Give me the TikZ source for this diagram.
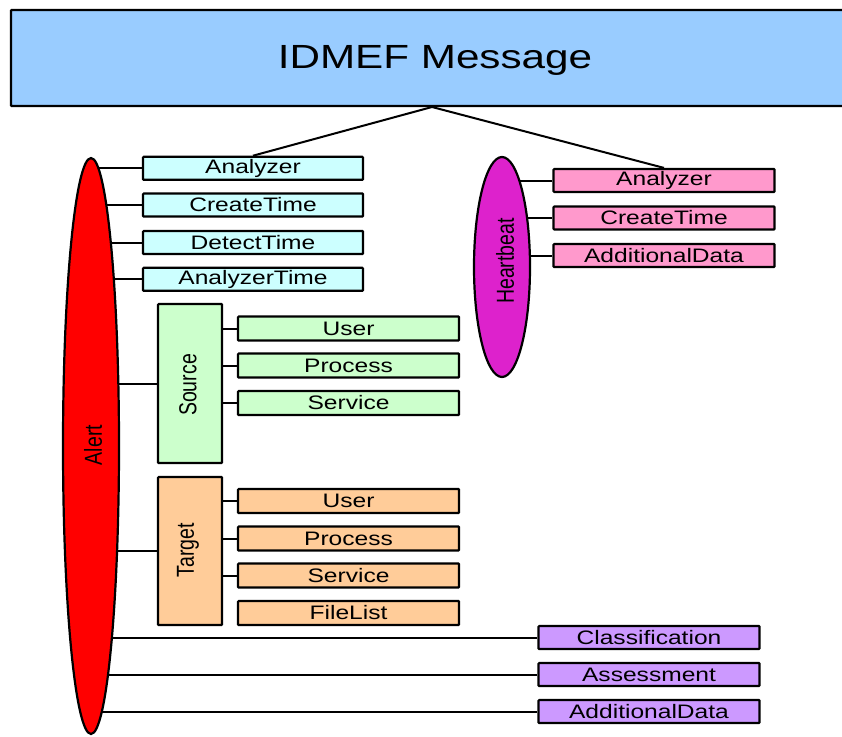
\documentclass[tikz,border=0pt]{standalone}
\usepackage{fontspec}
\usepackage{graphicx}
\setmainfont{Liberation Sans}
\usetikzlibrary{shapes.geometric}
\pgfdeclarelayer{background}
\pgfsetlayers{background,main}
\newcommand\hw[1]{\scalebox{1.26}[1]{#1}}
\newcommand\vw[1]{\scalebox{1}[1.26]{#1}}
\definecolor{topblue}{HTML}{99CCFF}
\definecolor{cyanf}{HTML}{CCFFFF}
\definecolor{pinkf}{HTML}{FF99CC}
\definecolor{greenf}{HTML}{CCFFCC}
\definecolor{orangef}{HTML}{FFCC99}
\definecolor{purplef}{HTML}{CC99FF}
\definecolor{magf}{HTML}{DD22CC}
\definecolor{redf}{HTML}{FF0000}
\tikzset{
  box/.style={draw=black, line width=2.2pt, inner sep=0pt, rounded corners=0.8pt,
    font=\fontsize{19.5}{20}\selectfont, text=black},
  leaf/.style={box, minimum width=221pt, minimum height=23pt},
  grp/.style={box, minimum width=64pt},
  oval/.style={ellipse, draw=black, line width=2.2pt, inner sep=0pt,
    font=\fontsize{19.5}{20}\selectfont},
  conn/.style={draw=black, line width=2pt},
  vlabel/.style={rotate=90, font=\fontsize{19.5}{20}\selectfont, inner sep=0pt},
}
\begin{document}
\begin{tikzpicture}[x=1pt,y=-1pt]
\useasboundingbox (0,0) rectangle (842,736);
\clip (0,0) rectangle (842,736);
% top
\node[box, fill=topblue, minimum width=960pt, minimum height=96pt] (msg) at (491,58) {};
\coordinate (j) at (432,107);
\node[font=\fontsize{33.5}{35}\selectfont, inner sep=0pt] (msglbl) at (435,60) {\hw{IDMEF Message}};
% alert
\node[oval, fill=redf, minimum width=56pt, minimum height=576pt] (alert) at (91,446) {};
\node[vlabel] (alertlbl) at (93,445) {\vw{Alert}};
% heartbeat
\node[oval, fill=magf, minimum width=56pt, minimum height=220pt] (hb) at (502,267) {};
\node[vlabel] (hblbl) at (505,261) {\vw{Heartbeat}};
% alert children
\node[leaf, fill=cyanf, minimum width=220pt] (a1) at (253,168.3) {\hw{Analyzer}};
\node[leaf, fill=cyanf, minimum width=220pt] (a2) at (253,205) {\hw{CreateTime}};
\node[leaf, fill=cyanf, minimum width=220pt] (a3) at (253,242.5) {\hw{DetectTime}};
\node[leaf, fill=cyanf, minimum width=220pt] (a4) at (253,279.3) {\hw{AnalyzerTime}};
% heartbeat children
\node[leaf, fill=pinkf] (h1) at (664,180.5) {\hw{Analyzer}};
\node[leaf, fill=pinkf] (h2) at (664,218) {\hw{CreateTime}};
\node[leaf, fill=pinkf] (h3) at (664,255.5) {\hw{AdditionalData}};
% source
\node[grp, fill=greenf, minimum height=159pt] (src) at (190,383.5) {};
\node[vlabel] (srclbl) at (188,385) {\vw{Source}};
\node[leaf, fill=greenf, minimum height=24pt] (s1) at (348.5,328.5) {\hw{User}};
\node[leaf, fill=greenf, minimum height=24pt] (s2) at (348.5,365.5) {\hw{Process}};
\node[leaf, fill=greenf, minimum height=24pt] (s3) at (348.5,403) {\hw{Service}};
% target
\node[grp, fill=orangef, minimum height=148pt] (tgt) at (190,551) {};
\node[vlabel] (tgtlbl) at (188,550) {\vw{Target}};
\node[leaf, fill=orangef, minimum height=24pt] (t1) at (348.5,501) {\hw{User}};
\node[leaf, fill=orangef, minimum height=24pt] (t2) at (348.5,538.5) {\hw{Process}};
\node[leaf, fill=orangef, minimum height=24pt] (t3) at (348.5,575.5) {\hw{Service}};
\node[leaf, fill=orangef, minimum height=24pt] (t4) at (348.5,613) {\hw{FileList}};
% alert bottom children
\node[leaf, fill=purplef] (p1) at (649,637.5) {\hw{Classification}};
\node[leaf, fill=purplef] (p2) at (649,674.5) {\hw{Assessment}};
\node[leaf, fill=purplef] (p3) at (649,711.5) {\hw{AdditionalData}};
% connectors
\begin{pgfonlayer}{background}
\draw[conn] (j) -- (a1.north);
\draw[conn] (j) -- (h1.north);
\foreach \n in {a1,a2,a3,a4,src,tgt,p1,p2,p3}
  \draw[conn] (alert.center |- \n.west) -- (\n.west);
\foreach \n in {h1,h2,h3}
  \draw[conn] (hb.center |- \n.west) -- (\n.west);
\foreach \n in {s1,s2,s3}
  \draw[conn] (src.center |- \n.west) -- (\n.west);
\foreach \n in {t1,t2,t3}
  \draw[conn] (tgt.center |- \n.west) -- (\n.west);
\end{pgfonlayer}
\end{tikzpicture}
\end{document}
